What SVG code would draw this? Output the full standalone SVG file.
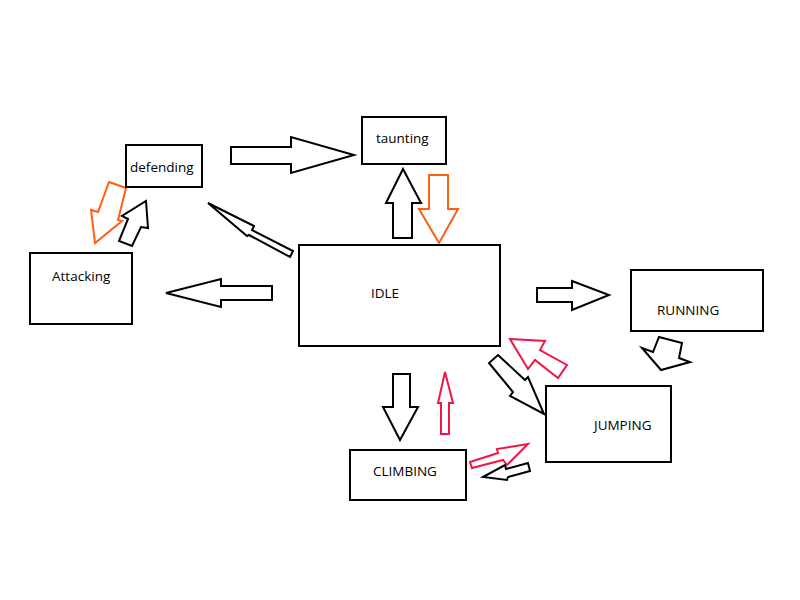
<svg xmlns="http://www.w3.org/2000/svg" width="800" height="600" viewBox="0 0 800 600">
<style>
.box{fill:#fff;stroke:#000;stroke-width:2}
.lbl{font-family:"Open Sans","Liberation Sans",sans-serif;font-size:13.5px;fill:#000}
.a{fill:#fff;stroke:#000;stroke-width:2;stroke-linejoin:miter}
.o{fill:#fff;stroke:#ff5f14;stroke-width:2}
.r{fill:#fff;stroke:#ee1848;stroke-width:2}
</style>
<rect width="800" height="600" fill="#fff"/>
<g id="connectors">
<polygon class="a" points="231,147 291,147 291,137 354,155 291,173 291,164 231,164"/>
<polygon class="a" points="393,238 393,203 386,203 403,169 421,203 412,203 412,238"/>
<polygon class="o" points="429,175 448,175 448,209 458,209 439,243 419,209 429,209"/>
<polygon class="a" points="208,203 254,226 252,230 293,251 290,257 249,235 247,236"/>
<polygon class="o" points="109,182 126,188 118,220 122,221 95,243 91,210 98,212"/>
<polygon class="a" points="146,201 148,228 141,227 132,246 119,241 128,219 122,216"/>
<polygon class="a" points="272,286 221,286 221,279 166,293 221,307 221,300 272,300"/>
<polygon class="a" points="537,288 572,288 572,281 609,295 572,310 572,302 537,302"/>
<polygon class="a" points="659,337 682,343 679,358 690,362 661,370 642,348 653,352"/>
<polygon class="r" points="510,339 545,341 540,350 567,365 558,378 535,360 528,369"/>
<polygon class="a" points="498,355 525,380 528,377 544,414 510,396 513,392 489,363"/>
<polygon class="a" points="393,374 410,374 410,407 418,407 400,440 383,407 393,407"/>
<polygon class="r" points="441,434 441,403 438,403 445,372 453,403 449,403 449,434"/>
<polygon class="r" points="470,462 498,453 497,449 528,444 507,465 503,460 472,468"/>
<polygon class="a" points="483,477 505,465 506,469 528,463 530,471 508,477 507,480"/>
</g>
<g id="defending"><rect class="box" x="126" y="145" width="76" height="42"/><text class="lbl" x="130" y="172">defending</text></g>
<g id="taunting"><rect class="box" x="362" y="117" width="84" height="47"/><text class="lbl" x="376" y="143">taunting</text></g>
<g id="attacking"><rect class="box" x="30" y="253" width="102" height="71"/><text class="lbl" x="52" y="281">Attacking</text></g>
<g id="idle"><rect class="box" x="299" y="245" width="201" height="101"/><text class="lbl" x="371" y="298">IDLE</text></g>
<g id="running"><rect class="box" x="631" y="270" width="132" height="61"/><text class="lbl" x="657" y="315">RUNNING</text></g>
<g id="jumping"><rect class="box" x="546" y="386" width="125" height="76"/><text class="lbl" x="594" y="430">JUMPING</text></g>
<g id="climbing"><rect class="box" x="350" y="450" width="116" height="50"/><text class="lbl" x="373" y="476">CLIMBING</text></g>
</svg>
